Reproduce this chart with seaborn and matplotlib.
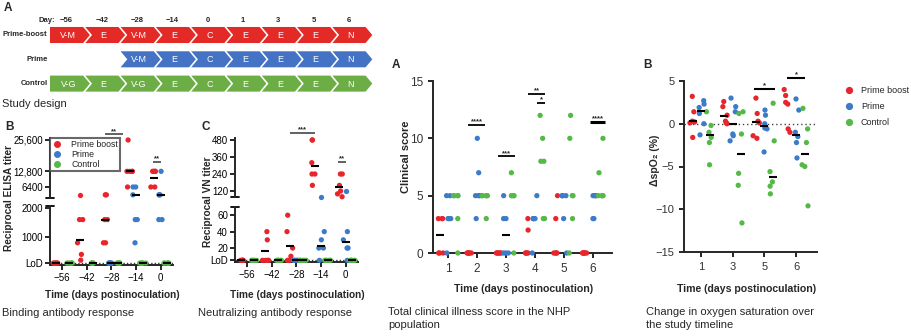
import numpy as np
import pandas as pd
import matplotlib
matplotlib.use("Agg")
import matplotlib.pyplot as plt
import seaborn as sns
from matplotlib.patches import Polygon
from matplotlib.lines import Line2D

# ---------------- data ----------------
groups = ["Prime boost", "Prime", "Control"]
colors = ["#e8252b", "#3b7bc8", "#55b948"]

design_days = ["\u221256", "\u221242", "\u221228", "\u221214", "0", "1", "3", "5", "6"]
design_rows = ["Prime-boost", "Prime", "Control"]
design_pb = ["V-M", "E", "V-M", "E", "C", "E", "E", "E", "N"]
design_prime = ["", "", "V-M", "E", "C", "E", "E", "E", "N"]
design_ctrl = ["V-G", "E", "V-G", "E", "C", "E", "E", "E", "N"]
design_colors = ["#e42a27", "#4472c4", "#6cae45"]

ab_days = ["\u221256", "\u221242", "\u221228", "\u221214", "0"]

elisa_lod = 100
elisa_pb = [[100] * 6, [3200, 1600, 1600, 800, 400, 200], [3200, 3200, 1600, 1600, 800, 800],
            [25600, 12800, 12800, 12800, 12800, 6400], [12800, 12800, 12800, 12800, 6400, 6400]]
elisa_prime = [[], [], [100] * 6, [6400, 6400, 3200, 1600, 1600, 800],
               [12800, 3200, 3200, 3200, 1600, 1600]]
elisa_ctrl = [[100] * 6] * 5
elisa_mean_pb = [100, 900, 1600, 12800, 10100]
elisa_mean_prime = [None, None, 100, 3200, 3200]
elisa_mean_ctrl = [100] * 5

vn_lod = 5
vn_pb = [[5] * 6, [40, 30, 5, 5, 5, 5], [60, 40, 20, 10, 5, 5],
         [480, 480, 320, 240, 240, 160], [240, 240, 160, 120, 100, 80]]
vn_prime = [[], [], [5] * 6, [80, 40, 30, 20, 20, 5], [120, 40, 30, 20, 20, 5]]
vn_ctrl = [[5] * 6] * 5
vn_mean_pb = [5, 17, 23, 300, 150]
vn_mean_prime = [None, None, 5, 23, 27]
vn_mean_ctrl = [5] * 5

clin_days = ["1", "2", "3", "4", "5", "6"]
clin_pb = [[3, 3, 3, 0, 0, 0], [0] * 6, [0] * 6, [3, 2, 0, 0, 0, 0], [5, 3, 0, 0, 0, 0], [0] * 6]
clin_prime = [[5, 5, 3, 3, 3, 0], [10, 7, 5, 5, 5, 3], [5, 3, 3, 0, 0, 0],
              [5, 3, 3, 3, 3, 0], [5, 5, 5, 5, 3, 0], [5, 5, 5, 5, 3, 3]]
clin_ctrl = [[5, 5, 5, 5, 3, 0], [5, 5, 5, 5, 5, 3], [7, 5, 5, 5, 5, 0],
             [12, 10, 8, 8, 3, 3], [12, 10, 5, 5, 3, 0], [10, 7, 5, 5, 5, 5]]
clin_mean_pb = [1.6, None, None, None, None, None]
clin_mean_prime = [None, None, 1.6, None, None, None]
clin_mean_ctrl = [None] * 6

spo2_days = ["1", "3", "5", "6"]
spo2_pb = [[3.2, 1.4, 0.3, 0.2, 0.1, -1.6], [2.6, 2.0, 1.0, 0.3, 0.1, 0.0],
           [3.0, 1.2, 0.3, 0.1, -1.4, -1.7], [4.0, 3.3, 2.5, 2.3, -0.6, -1.0]]
spo2_prime = [[2.7, 2.3, 1.9, 1.2, 0.0, -1.3], [3.0, 2.0, 1.4, -1.2, -1.4, -2.0],
              [1.6, 1.0, 0.0, -0.5, -0.6, -3.3], [2.9, 1.6, -1.0, -1.5, -2.2, -4.0]]
spo2_ctrl = [[1.4, -0.2, -1.0, -1.6, -2.2, -4.8], [1.4, 1.2, -1.2, -5.8, -7.2, -11.6],
             [2.4, -2.0, -5.6, -6.8, -7.3, -8.2], [1.8, -0.6, -2.2, -4.8, -5.0, -9.6]]
spo2_mean_pb = [0.3, 0.9, 0.2, None]
spo2_mean_prime = [1.5, 0.0, -0.3, -1.3]
spo2_mean_ctrl = [-1.3, -3.5, -6.2, -3.5]

# significance annotations: (x from, x to [category units], y, label)
elisa_sig = [(1.75, 2.45, 28000, "**"), (3.68, 4.0, 16700, "**")]
vn_sig = [(1.74, 2.75, 530, "***"), (3.7, 4.0, 325, "**")]
clin_sig = [(0.69, 1.28, 11.2, "****"), (1.72, 2.31, 8.45, "***"), (2.76, 3.34, 13.9, "**"),
            (3.07, 3.34, 13.1, "*"), (4.9, 5.41, 11.45, "****")]
spo2_sig = [(1.68, 2.32, 4.1, "*"), (2.72, 3.28, 5.4, "*")]

# ---------------- style ----------------
sns.set_style("ticks")
plt.rcParams["font.family"] = ["Liberation Sans", "DejaVu Sans"]
plt.rcParams["axes.linewidth"] = 1.4
plt.rcParams["xtick.major.width"] = 1.2
plt.rcParams["ytick.major.width"] = 1.2
plt.rcParams["xtick.major.size"] = 3.5
plt.rcParams["ytick.major.size"] = 3.5
plt.rcParams["xtick.color"] = "black"
plt.rcParams["ytick.color"] = "black"
np.random.seed(3)

W, H = 912, 336
fig = plt.figure(figsize=(W / 100, H / 100), dpi=100)


def add_ax(x0, y0, x1, y1):
    return fig.add_axes([x0 / W, 1 - y1 / H, (x1 - x0) / W, (y1 - y0) / H])


palette = dict(zip(groups, colors))
DODGE = 0.8 / 3


def long_df(days, series_list):
    rows = []
    for g, series in zip(groups, series_list):
        for d, vals in zip(days, series):
            for v in vals:
                rows.append((d, g, v))
    return pd.DataFrame(rows, columns=["day", "group", "value"])


def strip(ax, df, days, jitter, size=3.8):
    sns.stripplot(data=df, x="day", y="value", hue="group", order=days, hue_order=groups,
                  palette=palette, dodge=True, jitter=jitter, size=size, linewidth=0,
                  legend=False, ax=ax, clip_on=False, zorder=3)
    ax.set_xlabel("")
    ax.set_ylabel("")


def mean_bars(ax, mean_lists, keep=lambda m: True, s=40):
    for g, ml in enumerate(mean_lists):
        for i, m in enumerate(ml):
            if m is None or not keep(m):
                continue
            ax.scatter(i + (g - 1) * DODGE, m, marker="_", s=s, linewidths=1.5,
                       color="black", zorder=5, clip_on=False)


def sig(ax, items, lw=1.2, fs=5.5, color="black", thick_last=False):
    for k, (x0, x1, y, lab) in enumerate(items):
        w = 2.2 if (thick_last and k == len(items) - 1) else lw
        ax.plot([x0, x1], [y, y], color=color, lw=w, clip_on=False, solid_capstyle="butt")
        ax.annotate(lab, ((x0 + x1) / 2, y), xytext=(0, -0.5), textcoords="offset points",
                    ha="center", va="bottom", fontsize=fs, fontweight="bold", annotation_clip=False)


# ---------------- panel A: study design ----------------
axd = add_ax(0, 0, 375, 100)
col_w, row_h = 35.3, 24.3
axd.set_xlim(-50 / col_w, (375 - 50) / col_w)
axd.set_ylim((100 - 35) / row_h, -35 / row_h)
axd.axis("off")
half, dep, gap = 0.33, 0.19, 0.06
for r, (name, stages, col) in enumerate(zip(design_rows, [design_pb, design_prime, design_ctrl], design_colors)):
    axd.text(-0.07, r, name, ha="right", va="center", fontsize=5.5, fontweight="bold")
    for i, st in enumerate(stages):
        if not st:
            continue
        pts = [(i, r - half), (i + 1 - gap, r - half), (i + 1 - gap + dep, r),
               (i + 1 - gap, r + half), (i, r + half)]
        if i > 0:
            pts.append((i + dep, r))
        axd.add_patch(Polygon(pts, closed=True, facecolor=col, edgecolor="none"))
        axd.text(i + 0.52, r + 0.02, st, ha="center", va="center", color="white", fontsize=6.5)
for i, d in enumerate(design_days):
    axd.text(i + 0.47, -0.6, d, ha="center", va="center", fontsize=5.5, fontweight="bold")
axd.text(0.15, -0.6, "Day:", ha="right", va="center", fontsize=5.5, fontweight="bold")
fig.text(4 / W, 1 - 8 / H, "A", fontsize=8.5, fontweight="bold", va="center")
fig.text(2 / W, 1 - 104 / H, "Study design", fontsize=8, va="center")


# ---------------- broken-axis antibody panels ----------------
def broken_panel(x0, x1, up_rect, lo_rect, data, lod, split, up_lim, lo_lim,
                 up_ticks, up_labels, lo_ticks, lo_labels, means, sigs, legend=False):
    axu = add_ax(x0, up_rect[0], x1, up_rect[1])
    axl = add_ax(x0, lo_rect[0], x1, lo_rect[1])
    df = long_df(ab_days, data)
    strip(axu, df[df.value >= split], ab_days, 0.42)
    strip(axl, df[df.value < split], ab_days, 0.42)
    for ax in (axu, axl):
        ax.set_xlim(-0.5, 4.5)
        sns.despine(ax=ax)
    axu.set_ylim(*up_lim)
    axl.set_ylim(*lo_lim)
    axu.spines["bottom"].set_visible(False)
    axu.tick_params(axis="x", bottom=False, labelbottom=False)
    axu.set_yticks(up_ticks, up_labels)
    axl.set_yticks(lo_ticks, lo_labels)
    for ax in (axu, axl):
        ax.tick_params(axis="y", labelsize=7, pad=1.5)
    axl.tick_params(axis="x", labelsize=7, pad=2)
    axl.axhline(lod, ls=(0, (1, 1.5)), color="#333333", lw=1.0, zorder=1)
    # break marks
    axu.plot([-0.03, 0.03], [0, 0], transform=axu.transAxes, color="black", lw=1.3, clip_on=False)
    axl.plot([-0.03, 0.03], [1, 1], transform=axl.transAxes, color="black", lw=1.3, clip_on=False)
    mean_bars(axu, means, keep=lambda m: m >= split, s=36)
    mean_bars(axl, means, keep=lambda m: m < split, s=36)
    for item in sigs:
        target = axu if item[2] >= split else axl
        sig(target, [item], lw=1.3, color="#555555")
    if legend:
        handles = [Line2D([], [], marker="o", ls="", color=c, markersize=4) for c in colors]
        leg = axu.legend(handles, groups, loc="upper left", bbox_to_anchor=(0.0, 1.0),
                         borderaxespad=0, fontsize=6.3, handlelength=1.0, handletextpad=1.2,
                         labelspacing=0.12, borderpad=0.25, fancybox=False, frameon=True)
        leg.get_frame().set_edgecolor("#444444")
        leg.get_frame().set_linewidth(1.5)
        leg.set_zorder(10)
    return axu, axl


broken_panel(50, 173, (138, 198), (206, 265), [elisa_pb, elisa_prime, elisa_ctrl], elisa_lod, 3000,
             (1906, 26417), (34, 2069), [6400, 12800, 25600], ["6400", "12,800", "25,600"],
             [elisa_lod, 1000, 2000], ["LoD", "1000", "2000"],
             [elisa_mean_pb, elisa_mean_prime, elisa_mean_ctrl], elisa_sig, legend=True)
broken_panel(235, 358, (138, 197), (207, 262), [vn_pb, vn_prime, vn_ctrl], vn_lod, 75,
             (78, 494), (3, 70), [120, 240, 360, 480], ["120", "240", "360", "480"],
             [vn_lod, 20, 40, 60], ["LoD", "20", "40", "60"],
             [vn_mean_pb, vn_mean_prime, vn_mean_ctrl], vn_sig)

fig.text(5 / W, 1 - 127 / H, "B", fontsize=8.5, fontweight="bold", va="center")
fig.text(202 / W, 1 - 127 / H, "C", fontsize=8.5, fontweight="bold", va="center")
fig.text(9 / W, 1 - 198 / H, "Reciprocal ELISA titer", rotation=90, fontsize=7.3,
         fontweight="bold", ha="center", va="center")
fig.text(208 / W, 1 - 202 / H, "Reciprocal VN titer", rotation=90, fontsize=7.3,
         fontweight="bold", ha="center", va="center")
fig.text(112 / W, 1 - 295 / H, "Time (days postinoculation)", fontsize=7.3, fontweight="bold",
         ha="center", va="center")
fig.text(297 / W, 1 - 295 / H, "Time (days postinoculation)", fontsize=7.3, fontweight="bold",
         ha="center", va="center")
fig.text(2 / W, 1 - 313 / H, "Binding antibody response", fontsize=8, va="center")
fig.text(198 / W, 1 - 313 / H, "Neutralizing antibody response", fontsize=8, va="center")

# ---------------- clinical score ----------------
axc = add_ax(433, 81, 612, 253)
strip(axc, long_df(clin_days, [clin_pb, clin_prime, clin_ctrl]), clin_days, 0.3)
axc.set_xlim(-0.52, 5.65)
axc.set_ylim(0, 15)
axc.set_yticks([0, 5, 10, 15])
sns.despine(ax=axc)
axc.tick_params(labelsize=8.5, labelcolor="#333333")
mean_bars(axc, [clin_mean_pb, clin_mean_prime, clin_mean_ctrl], s=34)
sig(axc, clin_sig, lw=1.3, fs=5.5, thick_last=True)
fig.text(392 / W, 1 - 65 / H, "A", fontsize=8.5, fontweight="bold", va="center")
fig.text(406 / W, 1 - 157 / H, "Clinical score", rotation=90, fontsize=8, fontweight="bold",
         ha="center", va="center")
fig.text(524 / W, 1 - 289 / H, "Time (days postinoculation)", fontsize=7.6, fontweight="bold",
         ha="center", va="center")
fig.text(388 / W, 1 - 307 / H, "Total clinical illness score in the NHP\npopulation", fontsize=8,
         va="top", linespacing=1.35)

# ---------------- delta spO2 ----------------
axs = add_ax(684, 81, 817, 252)
strip(axs, long_df(spo2_days, [spo2_pb, spo2_prime, spo2_ctrl]), spo2_days, 0.33)
axs.set_xlim(-0.54, 3.66)
axs.set_ylim(-15, 5)
axs.set_yticks([-15, -10, -5, 0, 5])
sns.despine(ax=axs)
axs.tick_params(labelsize=8, labelcolor="#333333")
axs.axhline(0, ls=(0, (1, 2)), color="#444444", lw=1.0, zorder=1)
mean_bars(axs, [spo2_mean_pb, spo2_mean_prime, spo2_mean_ctrl], s=40)
sig(axs, spo2_sig, lw=1.5, fs=5.5)
fig.text(643 / W, 1 - 65 / H, "B", fontsize=8.5, fontweight="bold", va="center")
fig.text(655 / W, 1 - 160 / H, "\u0394spO\u2082 (%)", rotation=90, fontsize=7.6, fontweight="bold",
         ha="center", va="center")
fig.text(747 / W, 1 - 289 / H, "Time (days postinoculation)", fontsize=7.6, fontweight="bold",
         ha="center", va="center")
fig.text(646 / W, 1 - 307 / H, "Change in oxygen saturation over\nthe study timeline", fontsize=8,
         va="top", linespacing=1.35)

handles = [Line2D([], [], marker="o", ls="", color=c, markersize=4.2) for c in colors]
fig.legend(handles, groups, loc="upper left", bbox_to_anchor=(845 / W, 1 - 86 / H),
           frameon=False, fontsize=6.5, handlelength=0.85, handletextpad=0.9,
           labelspacing=0.8, borderpad=0, borderaxespad=0)

fig.savefig("out.png", dpi=100)
